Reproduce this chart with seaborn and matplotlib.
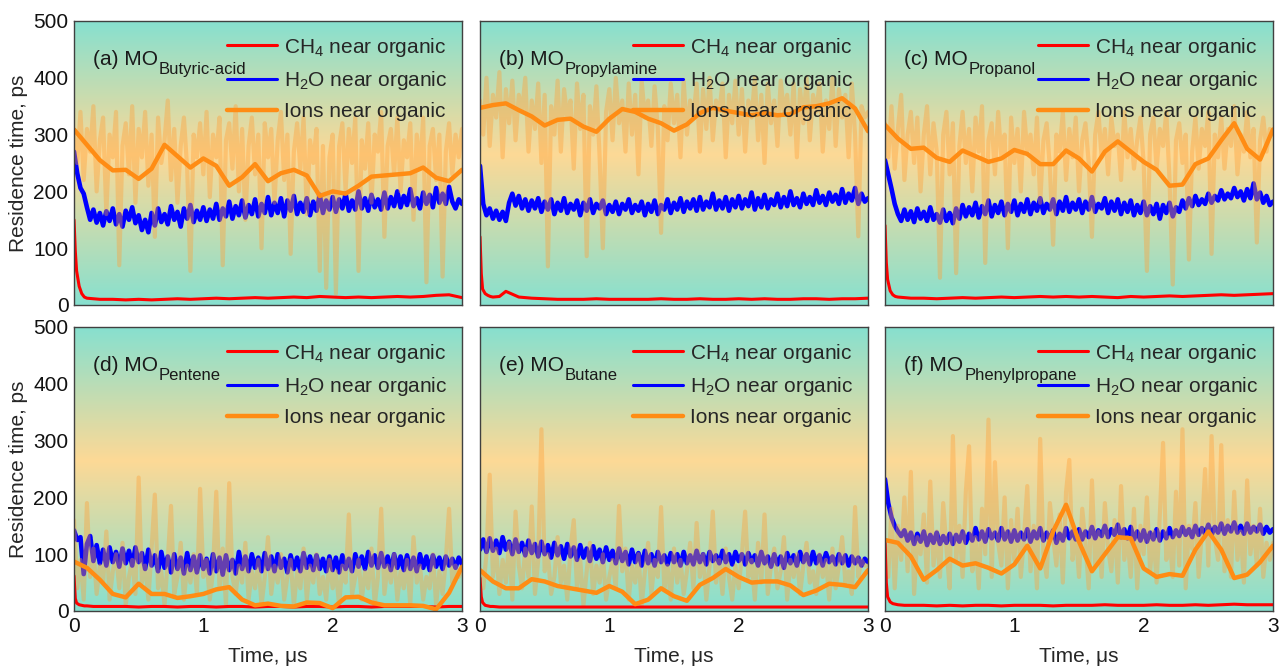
import numpy as np
import matplotlib
matplotlib.use("Agg")
import matplotlib.pyplot as plt
import seaborn as sns
from matplotlib.colors import LinearSegmentedColormap
from matplotlib.lines import Line2D

sns.set_theme(style="white")
plt.rcParams["font.family"] = ["Liberation Sans", "DejaVu Sans"]
plt.rcParams["mathtext.fontset"] = "custom"
plt.rcParams["mathtext.rm"] = "Liberation Sans"
plt.rcParams["mathtext.it"] = "Liberation Sans:italic"
plt.rcParams["mathtext.bf"] = "Liberation Sans:bold"

# ---------------- data ----------------
panel_tags = ["(a)", "(b)", "(c)", "(d)", "(e)", "(f)"]
systems = ["Butyric-acid", "Propylamine", "Propanol", "Pentene", "Butane", "Phenylpropane"]
series_labels = ["CH$_4$ near organic", "H$_2$O near organic", "Ions near organic"]
x_ticks = [0, 1, 2, 3]
y_ticks = [0, 100, 200, 300, 400, 500]

# time grid (us) of the CH4 residence-time curves
t_ch4 = [0, 0.01, 0.02, 0.04, 0.06, 0.08, 0.1, 0.15, 0.2,
         0.3, 0.4, 0.5, 0.6, 0.7, 0.8, 0.9, 1.0, 1.1, 1.2, 1.3, 1.4, 1.5, 1.6,
         1.7, 1.8, 1.9, 2.0, 2.1, 2.2, 2.3, 2.4, 2.5, 2.6, 2.7, 2.8, 2.9, 3.0]
# time grid (us) of the running-average ion curves
t_ion = [0.0, 0.1, 0.2, 0.3, 0.4, 0.5, 0.6, 0.7, 0.8, 0.9, 1.0, 1.1, 1.2, 1.3, 1.4, 1.5,
         1.6, 1.7, 1.8, 1.9, 2.0, 2.1, 2.2, 2.3, 2.4, 2.5, 2.6, 2.7, 2.8, 2.9, 3.0]
# H2O and raw ion series are sampled every 0.025 us (121 samples, 0-3 us)

# (a) Butyric-acid
a_ch4 = [150, 95, 60, 33, 20, 14, 12, 11, 10,
         10, 9, 10, 9, 10, 11, 10, 11, 12, 11, 12, 13, 12, 13, 14, 13, 15, 14, 13, 14,
         13, 14, 15, 14, 15, 17, 18, 13]
a_h2o = [270, 232, 206, 196, 172, 150, 168, 145, 162, 140, 165, 148, 170, 142, 160, 138, 166, 150, 172, 144,
         158, 132, 150, 128, 162, 140, 170, 146, 160, 142, 174, 150, 164, 138, 170, 152, 176, 146, 166, 150,
         172, 148, 168, 152, 178, 150, 170, 156, 182, 152, 174, 158, 184, 154, 176, 160, 186, 156, 178, 162,
         190, 158, 180, 162, 188, 156, 184, 166, 192, 160, 180, 164, 188, 158, 182, 166, 194, 162, 184, 168,
         190, 164, 186, 170, 196, 166, 184, 168, 200, 170, 188, 166, 194, 172, 186, 168, 198, 170, 190, 174,
         200, 172, 192, 176, 204, 174, 188, 170, 198, 178, 194, 172, 206, 180, 196, 178, 208, 182, 170, 186,
         178]
a_raw = [300, 250, 340, 220, 310, 270, 350, 200, 290, 330, 160, 300, 260, 340, 70, 280, 320, 230, 350, 180,
         310, 260, 340, 210, 300, 120, 330, 250, 290, 360, 220, 310, 180, 280, 330, 240, 60, 300, 260, 320,
         230, 340, 190, 300, 260, 330, 70, 290, 320, 240, 350, 200, 310, 150, 280, 330, 230, 300, 100, 320,
         260, 310, 180, 290, 340, 220, 300, 90, 270, 320, 240, 330, 160, 290, 250, 310, 60, 280, 30, 260,
         300, 20, 280, 320, 200, 310, 250, 330, 60, 290, 240, 320, 180, 300, 270, 340, 120, 280, 310, 230,
         330, 200, 290, 260, 320, 150, 300, 240, 330, 40, 280, 310, 220, 300, 50, 270, 320, 230, 300, 260,
         310]
a_ion = [309, 282, 255, 237, 238, 222, 240, 282, 262, 242, 258, 245, 210, 225, 248, 218,
         232, 238, 228, 192, 200, 196, 210, 226, 228, 230, 232, 242, 224, 218, 238]

# (b) Propylamine
b_ch4 = [120, 55, 28, 20, 17, 15, 14, 15, 24,
         14, 12, 11, 10, 10, 10, 11, 10, 10, 10, 10, 11, 10, 10, 11, 10, 10, 11, 10, 11,
         10, 10, 11, 11, 10, 11, 11, 12]
b_h2o = [245, 178, 158, 170, 152, 166, 150, 164, 148, 180, 196, 175, 192, 170, 186, 166, 184, 170, 188, 164,
         182, 168, 186, 160, 180, 166, 188, 162, 178, 168, 184, 158, 180, 166, 186, 162, 178, 170, 184, 160,
         176, 164, 182, 160, 178, 168, 186, 162, 176, 166, 182, 158, 178, 164, 184, 160, 176, 168, 186, 162,
         180, 168, 188, 164, 182, 170, 186, 166, 190, 168, 182, 172, 196, 168, 184, 170, 190, 166, 186, 172,
         192, 170, 186, 174, 198, 168, 188, 172, 194, 170, 186, 176, 196, 172, 190, 174, 200, 176, 188, 172,
         196, 178, 190, 176, 202, 180, 192, 176, 198, 182, 194, 178, 204, 180, 196, 184, 206, 178, 196, 182,
         188]
b_raw = [360, 300, 400, 280, 370, 330, 410, 260, 380, 320, 395, 290, 370, 340, 400, 270, 360, 310, 390, 250,
         370, 68, 350, 300, 395, 270, 380, 330, 360, 240, 390, 310, 370, 86, 350, 300, 385, 260, 100, 340,
         380, 290, 400, 320, 360, 270, 390, 300, 370, 230, 395, 330, 360, 280, 385, 310, 127, 350, 290, 390,
         320, 370, 260, 395, 300, 360, 330, 390, 270, 380, 310, 400, 290, 360, 340, 390, 260, 370, 320, 395,
         300, 380, 270, 360, 330, 400, 290, 370, 250, 390, 320, 360, 280, 395, 340, 370, 300, 390, 260, 380,
         320, 400, 290, 370, 340, 390, 270, 360, 310, 400, 280, 380, 330, 370, 260, 390, 300, 121, 350, 330,
         340]
b_ion = [347, 352, 355, 343, 332, 316, 326, 328, 314, 305, 328, 345, 340, 328, 320, 307,
         318, 338, 347, 342, 338, 334, 338, 334, 336, 348, 350, 355, 364, 346, 306]

# (c) Propanol
c_ch4 = [140, 75, 45, 25, 18, 15, 14, 13, 12,
         12, 11, 12, 13, 12, 13, 14, 13, 14, 15, 14, 15, 14, 15, 14, 13, 15, 14, 15, 16,
         15, 16, 17, 18, 17, 18, 19, 20]
c_h2o = [255, 230, 205, 178, 160, 148, 168, 150, 165, 146, 170, 152, 164, 148, 172, 150, 160, 145, 168, 148,
         162, 144, 170, 152, 176, 156, 172, 158, 180, 154, 174, 160, 184, 156, 176, 162, 182, 158, 178, 164,
         184, 158, 178, 164, 186, 160, 180, 166, 188, 162, 178, 168, 186, 160, 182, 166, 190, 164, 180, 168,
         186, 162, 182, 168, 190, 164, 178, 170, 188, 162, 182, 166, 186, 160, 180, 164, 184, 158, 176, 162,
         182, 158, 174, 160, 178, 152, 176, 162, 180, 156, 172, 164, 184, 170, 188, 174, 192, 176, 186, 178,
         196, 180, 192, 184, 202, 186, 196, 188, 206, 190, 200, 184, 204, 188, 214, 186, 198, 180, 192, 176,
         182]
c_raw = [320, 260, 350, 240, 310, 370, 220, 300, 340, 250, 330, 200, 300, 350, 230, 320, 270, 48, 300, 340,
         230, 320, 56, 280, 340, 250, 310, 200, 330, 270, 350, 74, 290, 320, 230, 340, 260, 300, 100, 330,
         250, 310, 200, 340, 270, 300, 230, 330, 180, 290, 320, 240, 106, 300, 270, 340, 220, 310, 260, 330,
         200, 290, 320, 250, 120, 300, 340, 260, 310, 230, 330, 280, 300, 220, 340, 260, 310, 240, 290, 330,
         250, 60, 300, 330, 240, 310, 280, 340, 220, 36, 290, 320, 250, 300, 80, 270, 330, 240, 310, 280,
         340, 90, 300, 260, 330, 240, 310, 280, 350, 230, 300, 270, 340, 260, 310, 110, 290, 330, 270, 310,
         300]
c_ion = [317, 293, 275, 277, 259, 252, 272, 262, 252, 258, 273, 266, 248, 248, 272, 258,
         235, 270, 288, 270, 252, 238, 210, 212, 248, 258, 290, 320, 275, 256, 309]

# (d) Pentene
d_ch4 = [62, 22, 14, 11, 10, 9, 9, 8, 8,
         8, 8, 7, 8, 8, 7, 8, 8, 7, 8, 8, 7, 8, 8, 7, 8, 8, 7, 8, 8,
         7, 8, 8, 8, 8, 7, 8, 8]
d_h2o = [142, 125, 130, 65, 118, 132, 88, 116, 84, 108, 80, 112, 86, 104, 78, 110, 84, 106, 80, 112,
         86, 102, 74, 108, 80, 98, 70, 104, 76, 96, 68, 100, 74, 94, 66, 102, 72, 96, 68, 98,
         74, 92, 66, 100, 70, 94, 64, 98, 72, 90, 66, 104, 74, 96, 70, 100, 76, 94, 70, 102,
         74, 96, 70, 100, 76, 92, 68, 98, 74, 94, 70, 102, 76, 96, 72, 98, 74, 92, 70, 96,
         72, 94, 68, 98, 74, 92, 70, 100, 78, 96, 74, 104, 80, 98, 76, 102, 78, 96, 72, 100,
         76, 96, 72, 98, 74, 94, 70, 100, 76, 96, 72, 98, 78, 94, 74, 96, 80, 92, 76, 94,
         82]
d_raw = [160, 40, 90, 20, 190, 60, 110, 30, 80, 50, 140, 20, 70, 100, 40, 120, 10, 60, 90, 30,
         235, 50, 80, 20, 110, 205, 40, 70, 10, 90, 185, 30, 60, 120, 20, 80, 50, 100, 30, 215,
         60, 90, 20, 70, 210, 40, 110, 10, 225, 60, 30, 80, 50, 120, 20, 70, 40, 90, 10, 60,
         130, 30, 80, 50, 100, 20, 60, 90, 10, 70, 40, 110, 20, 80, 50, 100, 30, 60, 20, 90,
         40, 70, 10, 80, 50, 170, 30, 60, 90, 20, 70, 40, 110, 10, 60, 180, 30, 80, 50, 100,
         20, 70, 40, 90, 10, 130, 50, 80, 20, 60, 40, 100, 10, 70, 30, 90, 180, 50, 80, 60,
         70]
d_ion = [87, 76, 55, 30, 24, 48, 30, 30, 23, 26, 30, 38, 42, 20, 10, 13,
         9, 8, 15, 14, 5, 24, 25, 15, 10, 10, 10, 9, 3, 32, 78]

# (e) Butane
e_ch4 = [58, 25, 15, 10, 9, 8, 8, 7, 7,
         7, 7, 7, 7, 7, 7, 7, 7, 7, 7, 7, 7, 7, 7, 7, 7, 7, 7, 7, 7,
         7, 7, 7, 7, 7, 7, 7, 7]
e_h2o = [108, 126, 104, 128, 106, 124, 102, 130, 108, 122, 100, 126, 104, 120, 98, 124, 102, 118, 96, 122,
         100, 116, 94, 120, 98, 114, 92, 118, 96, 112, 90, 116, 94, 110, 88, 114, 92, 108, 86, 112,
         90, 106, 84, 110, 88, 104, 82, 108, 86, 102, 80, 106, 84, 100, 80, 104, 86, 98, 82, 102,
         86, 100, 80, 104, 84, 98, 82, 106, 86, 100, 82, 104, 88, 98, 84, 106, 86, 100, 82, 104,
         88, 100, 82, 102, 86, 98, 80, 104, 84, 96, 78, 100, 82, 96, 76, 102, 84, 98, 80, 104,
         86, 100, 82, 104, 84, 98, 80, 102, 86, 96, 82, 100, 84, 98, 80, 96, 84, 94, 80, 92,
         86]
e_raw = [70, 40, 100, 240, 60, 110, 30, 90, 50, 120, 20, 175, 80, 40, 110, 60, 184, 30, 90, 320,
         70, 100, 30, 60, 130, 50, 80, 20, 110, 160, 40, 90, 10, 70, 120, 30, 80, 50, 100, 20,
         60, 90, 40, 185, 70, 110, 20, 80, 50, 100, 10, 70, 120, 30, 90, 60, 183, 40, 80, 20,
         110, 50, 90, 30, 70, 120, 40, 155, 60, 100, 20, 80, 175, 50, 90, 30, 110, 60, 20, 80,
         40, 100, 175, 60, 90, 20, 120, 50, 170, 30, 80, 110, 40, 70, 130, 20, 90, 60, 100, 30,
         80, 120, 50, 70, 30, 100, 60, 90, 20, 110, 40, 80, 130, 50, 70, 30, 183, 60, 90, 80,
         80]
e_ion = [72, 52, 40, 40, 56, 52, 44, 40, 36, 32, 44, 34, 12, 20, 40, 26,
         18, 46, 58, 74, 60, 50, 52, 52, 45, 28, 36, 48, 46, 42, 72]

# (f) Phenylpropane
f_ch4 = [125, 50, 25, 16, 13, 12, 11, 10, 10,
         10, 9, 10, 9, 10, 10, 9, 10, 10, 10, 9, 10, 10, 10, 11, 10, 10, 10, 11, 10,
         10, 11, 10, 11, 12, 11, 11, 11]
f_h2o = [232, 190, 165, 150, 140, 132, 142, 124, 138, 118, 136, 122, 140, 116, 134, 120, 138, 118, 132, 120,
         136, 118, 134, 122, 140, 120, 136, 124, 146, 126, 140, 122, 144, 128, 138, 124, 146, 126, 140, 122,
         142, 124, 138, 126, 144, 122, 140, 128, 146, 124, 138, 126, 142, 120, 136, 124, 146, 128, 140, 126,
         144, 126, 140, 130, 148, 128, 142, 132, 150, 130, 144, 134, 152, 130, 144, 128, 148, 126, 140, 124,
         142, 122, 138, 126, 144, 124, 140, 128, 146, 130, 142, 132, 148, 134, 144, 130, 150, 134, 146, 136,
         152, 134, 148, 138, 154, 136, 150, 140, 156, 138, 150, 136, 154, 138, 148, 140, 152, 136, 148, 138,
         144]
f_raw = [120, 60, 180, 40, 150, 90, 200, 70, 245, 30, 130, 100, 170, 50, 228, 80, 140, 60, 190, 110,
         40, 308, 90, 150, 60, 210, 290, 70, 130, 40, 180, 100, 337, 60, 262, 120, 80, 200, 40, 160,
         90, 180, 60, 130, 220, 70, 150, 40, 303, 100, 60, 190, 130, 80, 170, 50, 210, 266, 90, 140,
         60, 180, 120, 40, 230, 80, 140, 60, 190, 110, 70, 160, 50, 220, 90, 130, 60, 180, 40, 150,
         100, 200, 70, 140, 50, 170, 296, 90, 130, 60, 210, 80, 320, 40, 150, 110, 190, 60, 140, 250,
         80, 308, 130, 90, 292, 70, 160, 60, 210, 90, 140, 50, 230, 100, 150, 80, 180, 60, 120, 90,
         120]
f_ion = [125, 120, 96, 55, 72, 92, 80, 84, 76, 66, 82, 115, 75, 140, 187, 122,
         70, 100, 130, 128, 75, 60, 65, 62, 108, 140, 108, 58, 64, 86, 115]

panels = [
    (a_ch4, a_h2o, a_raw, a_ion),
    (b_ch4, b_h2o, b_raw, b_ion),
    (c_ch4, c_h2o, c_raw, c_ion),
    (d_ch4, d_h2o, d_raw, d_ion),
    (e_ch4, e_h2o, e_raw, e_ion),
    (f_ch4, f_h2o, f_raw, f_ion),
]

# ---------------- style ----------------
col_ch4 = "#ff0000"
col_h2o = "#0000ff"
col_ion = "#ff8c14"
col_raw = "#ffa038"
teal = "#87e0cf"
peach = "#fdd996"
bg_cmap = LinearSegmentedColormap.from_list(
    "bg", [(0.0, teal), (0.53, peach), (1.0, teal)])
gradient = np.linspace(0, 1, 256).reshape(-1, 1)

FS = 15
FS_SUB = 12
fig = plt.figure(figsize=(12.8, 6.7), dpi=100)

lefts = [74, 480, 885]
tops = [21, 327]
W, H = 388, 284

label_texts = []
for i, (ch4, h2o, raw, ion) in enumerate(panels):
    row, col = divmod(i, 3)
    ax = fig.add_axes([lefts[col] / 1280, 1 - (tops[row] + H) / 670, W / 1280, H / 670])

    ax.imshow(gradient, extent=[0, 3, 0, 500], aspect="auto", origin="lower",
              cmap=bg_cmap, interpolation="bicubic", zorder=0)

    t_fine = np.linspace(0, 3, len(h2o))
    t_raw = np.linspace(0, 3, len(raw))
    sns.lineplot(x=t_fine, y=h2o, ax=ax, color=col_h2o, lw=3.3, zorder=2)
    sns.lineplot(x=t_raw, y=raw, ax=ax, color=col_raw, lw=3.0, alpha=0.4, zorder=3)
    sns.lineplot(x=t_ch4, y=ch4, ax=ax, color=col_ch4, lw=2.2, zorder=4)
    sns.lineplot(x=t_ion, y=ion, ax=ax, color=col_ion, lw=3.2, zorder=5)

    ax.set_xlim(0, 3)
    ax.set_ylim(0, 500)
    ax.set_xticks(x_ticks)
    ax.set_yticks(y_ticks)
    ax.tick_params(length=0, labelsize=FS, pad=4, colors="#111111")
    ax.grid(False)
    if row == 0:
        ax.set_xticklabels([])
    else:
        ax.set_xlabel("Time, μs", fontsize=FS, labelpad=8)
    if col != 0:
        ax.set_yticklabels([])
    else:
        ax.set_ylabel("Residence time, ps", fontsize=FS, labelpad=4)
    for sp in ax.spines.values():
        sp.set_color("#404040")
        sp.set_linewidth(1.0)
        sp.set_zorder(10)

    main = ax.text(0.049, 0.845, panel_tags[i] + " MO", transform=ax.transAxes,
                   fontsize=FS, ha="left", va="baseline", color="#1a1a1a", zorder=8)
    label_texts.append((ax, main, systems[i]))

    handles = [Line2D([], [], color=col_ch4, lw=2.2),
               Line2D([], [], color=col_h2o, lw=2.2),
               Line2D([], [], color=col_ion, lw=3.2)]
    leg = ax.legend(handles, series_labels, loc="upper right", frameon=False,
                    fontsize=FS, handlelength=2.4, handletextpad=0.35,
                    labelspacing=0.5, borderaxespad=0.2, borderpad=0.5)
    leg.set_zorder(9)

# subscripts of the system names, placed right after "MO"
fig.canvas.draw()
renderer = fig.canvas.get_renderer()
for ax, main, sub in label_texts:
    bb = main.get_window_extent(renderer)
    base_y = ax.transAxes.transform((0.049, 0.845))[1]
    ax.text(bb.x1 + 1, base_y - 9, sub, transform=None, fontsize=FS_SUB,
            ha="left", va="baseline", color="#1a1a1a", zorder=8)

fig.savefig("out.png", dpi=100)
